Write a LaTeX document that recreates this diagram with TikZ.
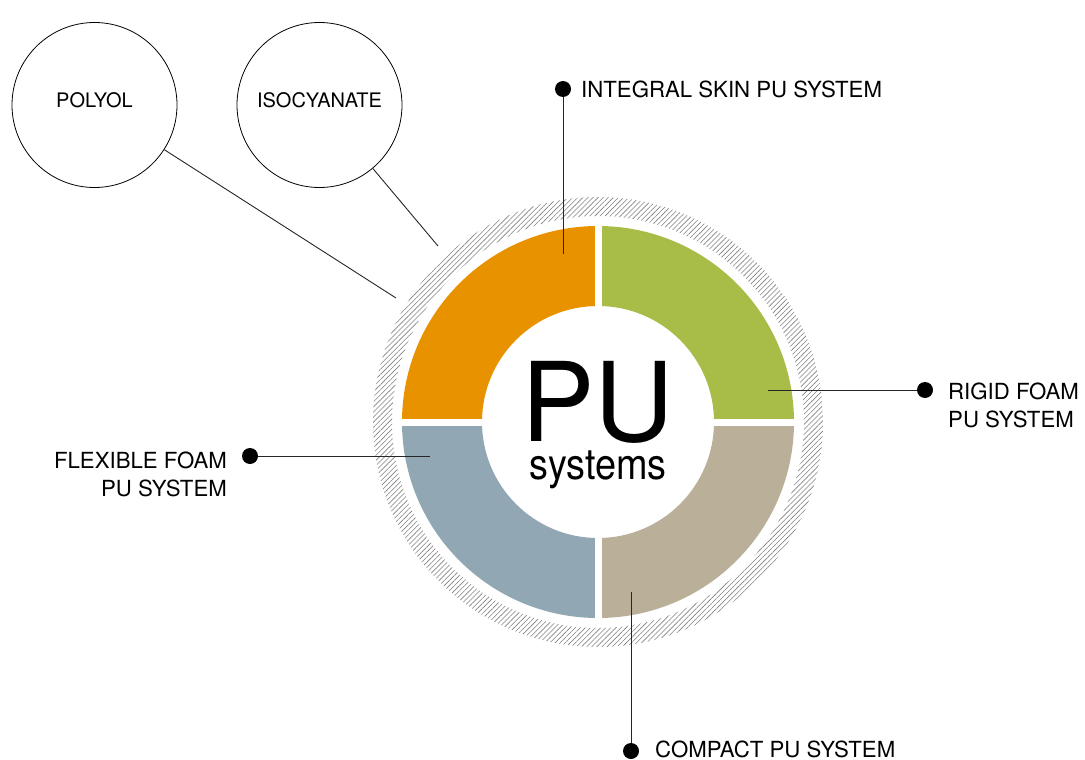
\documentclass[tikz,border=0pt]{standalone}
\usepackage{fontspec}
\setmainfont{TeX Gyre Heros}
\usetikzlibrary{patterns.meta}
\definecolor{puorange}{RGB}{232,146,0}
\definecolor{pugreen}{RGB}{168,189,72}
\definecolor{putan}{RGB}{186,175,152}
\definecolor{publue}{RGB}{145,167,179}

\begin{document}
\begin{tikzpicture}[x=1pt, y=-1pt,
    every node/.style={inner sep=0pt},
    dot/.style={circle, fill=black, minimum size=16pt},
    link/.style={draw=black!85, line width=0.9pt},
    tag/.style={font=\fontsize{22.2}{28}\selectfont},
    source/.style={draw, circle, line width=0.8pt, minimum size=165pt, text depth=10pt, font=\fontsize{20}{24}\selectfont}]
      \useasboundingbox (0,0) rectangle (1085,760);
      % hatched ring
      \path[pattern={Lines[angle=45,distance=3.6pt,line width=0.6pt]}, pattern color=black!50, even odd rule]
         (598,422) circle (225) (598,422) circle (206);
      % the four segments
      \fill[puorange] (402,422) arc (180:270:196) -- (598,306) arc (270:180:116) -- cycle;
      \fill[pugreen] (598,226) arc (270:360:196) -- (714,422) arc (360:270:116) -- cycle;
      \fill[putan] (794,422) arc (0:90:196) -- (598,538) arc (90:0:116) -- cycle;
      \fill[publue] (598,618) arc (90:180:196) -- (482,422) arc (180:90:116) -- cycle;
      \draw[white, line width=7pt] (598,220) -- (598,624) (396,422) -- (800,422);
      \node[font=\fontsize{110}{110}\selectfont] (pu) at (598,402) {PU};
      \node[font=\fontsize{43}{43}\selectfont, anchor=base] (systems) at (598,479) {\scalebox{0.88}[1]{systems}};
      % raw materials
      \node[source] (polyol) at (94.5,105) {POLYOL};
      \node[source] (isocyanate) at (319.5,105) {ISOCYANATE};
      \coordinate (polyolend) at (396,298);
      \coordinate (isocyanateend) at (438,246);
      \draw[link] (polyol) -- (polyolend);
      \draw[link] (isocyanate) -- (isocyanateend);
      % system labels
      \node[dot] (skindot) at (563,89) {};
      \node[tag, anchor=west] (skin) at (581,89) {INTEGRAL SKIN PU SYSTEM};
      \coordinate (skinend) at (563,254);
      \draw[link] (skinend) -- (skindot);
      \node[dot] (rigiddot) at (925,390) {};
      \node[tag, anchor=north west, align=left] (rigid) at (948,382.5) {RIGID FOAM\\PU SYSTEM};
      \coordinate (rigidend) at (768,390);
      \draw[link] (rigidend) -- (rigiddot);
      \node[dot] (flexdot) at (250,456) {};
      \node[tag, anchor=north east, align=right] (flex) at (227,451.5) {FLEXIBLE FOAM\\PU SYSTEM};
      \coordinate (flexend) at (430,456);
      \draw[link] (flexend) -- (flexdot);
      \node[dot] (compactdot) at (631,751) {};
      \node[tag, anchor=west] (compact) at (655,749) {COMPACT PU SYSTEM};
      \coordinate (compactend) at (631,592);
      \draw[link] (compactend) -- (compactdot);
   \end{tikzpicture}
\end{document}
